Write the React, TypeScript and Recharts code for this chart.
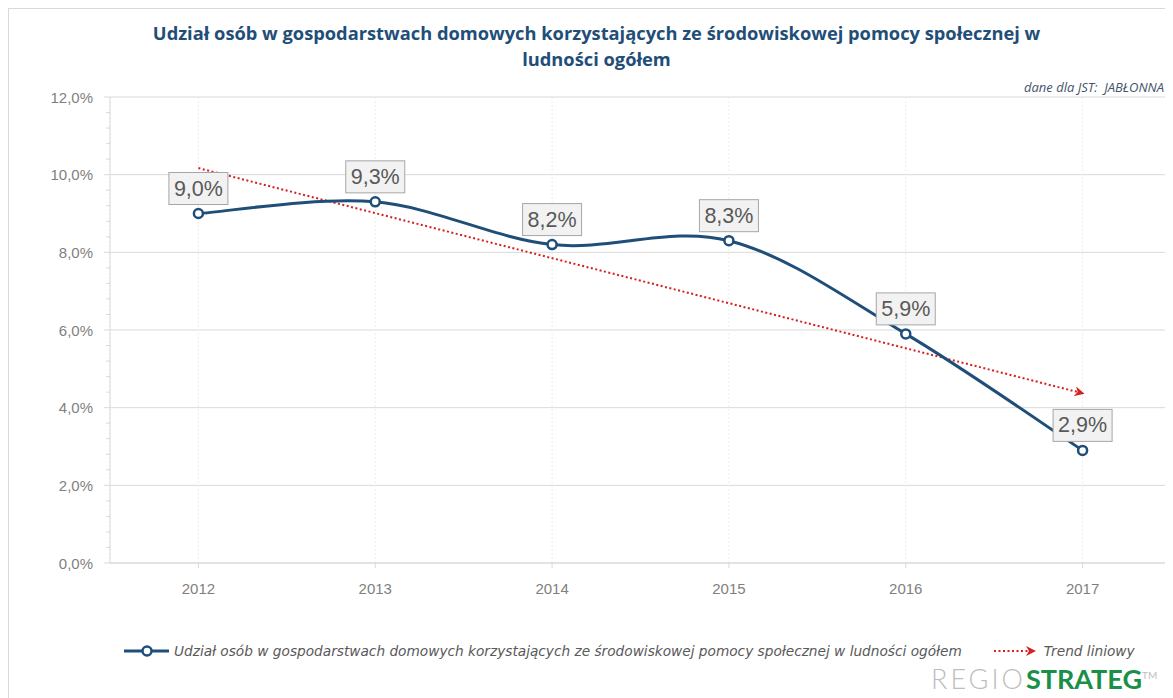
import React from "react";
import {
  LineChart,
  Line,
  XAxis,
  YAxis,
  CartesianGrid,
  LabelList,
} from "recharts";

const years = ["2012", "2013", "2014", "2015", "2016", "2017"];
const share = [9.0, 9.3, 8.2, 8.3, 5.9, 2.9];
const trend = [10.17, 9.01, 7.85, 6.69, 5.53, 4.37];
const yTicks = [
  0, 0.4, 0.8, 1.2, 1.6, 2, 2.4, 2.8, 3.2, 3.6, 4, 4.4, 4.8, 5.2, 5.6, 6, 6.4,
  6.8, 7.2, 7.6, 8, 8.4, 8.8, 9.2, 9.6, 10, 10.4, 10.8, 11.2, 11.6, 12,
];
const majorTicks = [0, 2, 4, 6, 8, 10, 12];

const chartData = years.map((year, i) => ({
  year,
  share: share[i],
  trend: trend[i],
}));

const BLUE = "#1f4e79";
const RED = "#d42020";
const GREY_TEXT = "#7f7f7f";

const pct = (v: number) => v.toFixed(1).replace(".", ",") + "%";

// Excel-like smoothed line (Catmull-Rom through the points)
const excelSmooth = (context: any) => {
  let pts: [number, number][] = [];
  return {
    areaStart() {},
    areaEnd() {},
    lineStart() {
      pts = [];
    },
    lineEnd() {
      const n = pts.length;
      if (!n) return;
      context.moveTo(pts[0][0], pts[0][1]);
      for (let i = 0; i < n - 1; i++) {
        const p0 = pts[Math.max(i - 1, 0)];
        const p1 = pts[i];
        const p2 = pts[i + 1];
        const p3 = pts[Math.min(i + 2, n - 1)];
        context.bezierCurveTo(
          p1[0] + (p2[0] - p0[0]) / 6,
          p1[1] + (p2[1] - p0[1]) / 6,
          p2[0] - (p3[0] - p1[0]) / 6,
          p2[1] - (p3[1] - p1[1]) / 6,
          p2[0],
          p2[1]
        );
      }
    },
    point(x: number, y: number) {
      pts.push([+x, +y]);
    },
  };
};

const YTick = (props: any) => {
  const { x, y, payload } = props;
  const major = majorTicks.some((m) => Math.abs(m - payload.value) < 1e-6);
  return (
    <g>
      <line
        x1={x - (major ? 6 : 4)}
        x2={x}
        y1={y}
        y2={y}
        stroke="#d9d9d9"
      />
      {major && (
        <text
          x={x - 17}
          y={y}
          textAnchor="end"
          dominantBaseline="central"
          fill={GREY_TEXT}
          fontSize={15}
          fontFamily="Liberation Sans"
        >
          {pct(payload.value)}
        </text>
      )}
    </g>
  );
};

const ValueBox = (props: any) => {
  const { x, y, value } = props;
  return (
    <g>
      <rect
        x={x - 29.5}
        y={y - 41}
        width={59}
        height={32}
        fill="#f2f2f2"
        stroke="#a6a6a6"
      />
      <text
        x={x}
        y={y - 25}
        textAnchor="middle"
        dominantBaseline="central"
        fill="#595959"
        fontSize={21.5}
        fontFamily="Liberation Sans"
      >
        {pct(value)}
      </text>
    </g>
  );
};

export default function App() {
  return (
    <div
      style={{
        position: "relative",
        width: 1165,
        height: 690,
        borderLeft: "1px solid #d9d9d9",
        borderTop: "1px solid #d9d9d9",
        boxSizing: "border-box",
        fontFamily: "Liberation Sans",
      }}
    >
      <style>{`body{overflow:hidden}`}</style>
      <svg width={0} height={0} style={{ position: "absolute" }}>
        <defs>
          <marker
            id="trendArrow"
            viewBox="0 0 10 10"
            refX={8}
            refY={5}
            markerWidth={5}
            markerHeight={5}
            orient="auto"
          >
            <path d="M0,0 L10,5 L0,10 L3,5 z" fill={RED} />
          </marker>
        </defs>
      </svg>

      <div
        style={{
          position: "absolute",
          left: 0,
          top: 11,
          width: 1175,
          textAlign: "center",
          color: BLUE,
          fontFamily: "Open Sans",
          fontWeight: 700,
          fontSize: 18.3,
          lineHeight: "26px",
        }}
      >
        Udział osób w gospodarstwach domowych korzystających ze środowiskowej
        pomocy społecznej w
        <br />
        ludności ogółem
      </div>

      <div
        style={{
          position: "absolute",
          right: 9,
          top: 69,
          color: "#44546a",
          fontStyle: "italic",
          fontSize: 13,
          whiteSpace: "pre",
          fontFamily: "Open Sans",
        }}
      >
        {"dane dla JST:  JABŁONNA"}
      </div>

      <LineChart
        width={1165}
        height={682}
        data={chartData}
        margin={{ top: 88, right: 3, left: 0, bottom: 0 }}
      >
        <CartesianGrid
          vertical={false}
          horizontalValues={majorTicks}
          stroke="#d9d9d9"
        />
        <CartesianGrid
          horizontal={false}
          stroke="#ededed"
          strokeDasharray="2 2"
        />
        <XAxis
          dataKey="year"
          height={128}
          padding={{ left: 88.4, right: 88.4 }}
          axisLine={{ stroke: "#d9d9d9" }}
          tickLine={{ stroke: "#d9d9d9" }}
          tickSize={5}
          tickMargin={15}
          tick={{ fill: GREY_TEXT, fontSize: 15, fontFamily: "Liberation Sans" }}
        />
        <YAxis
          width={101}
          domain={[0, 12]}
          ticks={yTicks}
          interval={0}
          axisLine={{ stroke: "#d9d9d9" }}
          tickLine={false}
          tickSize={0}
          tickMargin={0}
          tick={<YTick />}
        />
        <Line
          dataKey="trend"
          type="linear"
          stroke={RED}
          strokeWidth={2}
          strokeDasharray="2 2.5"
          dot={false}
          activeDot={false}
          markerEnd="url(#trendArrow)"
          isAnimationActive={false}
        />
        <Line
          dataKey="share"
          type={excelSmooth as any}
          stroke={BLUE}
          strokeWidth={3}
          dot={{ r: 4.5, fill: "#ffffff", stroke: BLUE, strokeWidth: 2.5 }}
          activeDot={false}
          isAnimationActive={false}
        >
          <LabelList dataKey="share" content={<ValueBox />} />
        </Line>
      </LineChart>

      <div
        style={{
          position: "absolute",
          left: 115,
          top: 631,
          height: 22,
          display: "flex",
          alignItems: "center",
          color: "#595959",
          fontStyle: "italic",
          fontSize: 13.7,
          fontFamily: "DejaVu Sans",
          whiteSpace: "nowrap",
        }}
      >
        <svg width={50} height={22}>
          <line x1={0} x2={45} y1={11} y2={11} stroke={BLUE} strokeWidth={3} />
          <circle cx={23} cy={11} r={4.5} fill="#fff" stroke={BLUE} strokeWidth={2.5} />
        </svg>
        <span>
          Udział osób w gospodarstwach domowych korzystających ze środowiskowej
          pomocy społecznej w ludności ogółem
        </span>
        <svg width={46} height={22} style={{ marginLeft: 32 }}>
          <line
            x1={0}
            x2={40}
            y1={11}
            y2={11}
            stroke={RED}
            strokeWidth={2}
            strokeDasharray="2 2.5"
            markerEnd="url(#trendArrow)"
          />
        </svg>
        <span style={{ marginLeft: 4 }}>Trend liniowy</span>
      </div>

      <div
        style={{
          position: "absolute",
          left: 922,
          top: 652,
          fontSize: 27,
          fontFamily: "Lato",
          whiteSpace: "nowrap",
          lineHeight: "28px",
        }}
      >
        <span style={{ color: "#bdbdbd", fontWeight: 300, letterSpacing: 3 }}>
          REGIO
        </span>
        <span style={{ color: "#1a8f48", fontWeight: 700 }}>STRATEG</span>
        <sup style={{ color: "#bdbdbd", fontSize: 10 }}>TM</sup>
      </div>
    </div>
  );
}
